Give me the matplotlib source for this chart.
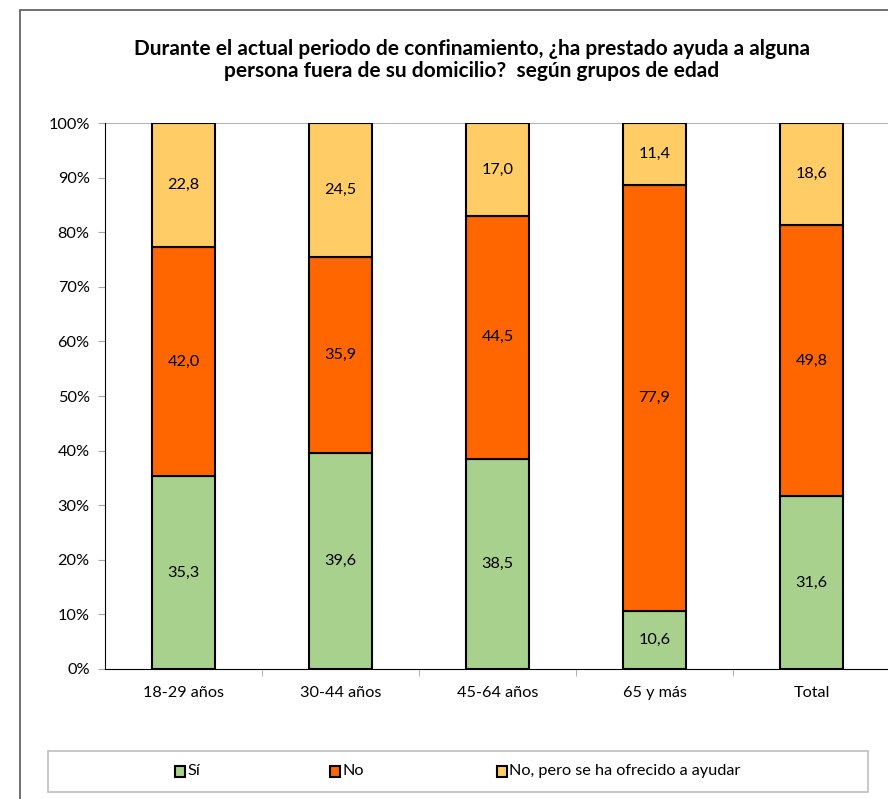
import numpy as np
import matplotlib.pyplot as plt
from matplotlib.patches import Rectangle

plt.rcParams['font.family'] = ['Lato', 'DejaVu Sans']

grupos = ['18-29 años', '30-44 años', '45-64 años', '65 y más', 'Total']
si = np.array([35.3, 39.6, 38.5, 10.6, 31.6])
no = np.array([42.0, 35.9, 44.5, 77.9, 49.8])
ofrecido = np.array([22.8, 24.5, 17.0, 11.4, 18.6])
series = ['Sí', 'No', 'No, pero se ha ofrecido a ayudar']
colores = ['#A9D18E', '#FF6600', '#FFCC66']

# apilado al 100% como en Excel
total = si + no + ofrecido
datos = [si / total * 100, no / total * 100, ofrecido / total * 100]
valores = [si, no, ofrecido]

fs = 11.7

fig = plt.figure(figsize=(8.88, 7.99), dpi=100)
# marco exterior del grafico
fig.patches.append(Rectangle((20 / 888, -0.1), 1.0, 1.1 - 10 / 799, transform=fig.transFigure,
                             fill=False, edgecolor='#595959', linewidth=1.2))

ax = fig.add_axes([105 / 888, 1 - 669 / 799, 785 / 888, 546 / 799])
x = np.arange(len(grupos))
abajo = np.zeros(len(grupos))
for d, v, c, s in zip(datos, valores, colores, series):
    ax.bar(x, d, 0.4, bottom=abajo, color=c, edgecolor='black', linewidth=1.5, label=s, zorder=3)
    for xi, b, di, vi in zip(x, abajo, d, v):
        ax.text(xi, b + di / 2, f'{vi:.1f}'.replace('.', ','), ha='center', va='center',
                fontsize=fs, zorder=4)
    abajo = abajo + d

ax.set_xlim(-0.5, len(grupos) - 0.5)
ax.set_ylim(0, 100)
ax.set_yticks(np.arange(0, 101, 10))
ax.set_yticklabels([f'{t}%' for t in range(0, 101, 10)], fontsize=fs)
ax.set_xticks(x)
ax.set_xticklabels(grupos, fontsize=fs)
ax.set_xticks(np.arange(0.5, len(grupos) - 1, 1), minor=True)
ax.tick_params(axis='x', which='major', length=0, pad=12)
ax.tick_params(axis='x', which='minor', length=5, color='#A6A6A6', direction='out')
ax.tick_params(axis='y', length=5, color='#A6A6A6', pad=6)
ax.axhline(100, color='#A6A6A6', linewidth=1.2, zorder=1)
for lado in ['top', 'right']:
    ax.spines[lado].set_visible(False)
ax.spines['left'].set_color('black')
ax.spines['bottom'].set_color('black')

fig.text(472 / 888, 1 - 60 / 799,
         'Durante el actual periodo de confinamiento, ¿ha prestado ayuda a alguna\n'
         'persona fuera de su domicilio?  según grupos de edad',
         ha='center', va='center', fontsize=15, fontweight='bold', linespacing=1.1)

# caja de la leyenda
fig.patches.append(Rectangle((48 / 888, 1 - 792 / 799), 820 / 888, 41 / 799, transform=fig.transFigure,
                             fill=False, edgecolor='#BFBFBF', linewidth=1.2))
pos_x = [175, 330, 497]
for px, c, s in zip(pos_x, colores, series):
    fig.patches.append(Rectangle((px / 888, 1 - 777 / 799), 10 / 888, 11 / 799, transform=fig.transFigure,
                                 facecolor=c, edgecolor='black', linewidth=1.5))
    fig.text((px + 12) / 888, 1 - 771 / 799, s, ha='left', va='center', fontsize=fs)

fig.savefig('out.png', dpi=100)
